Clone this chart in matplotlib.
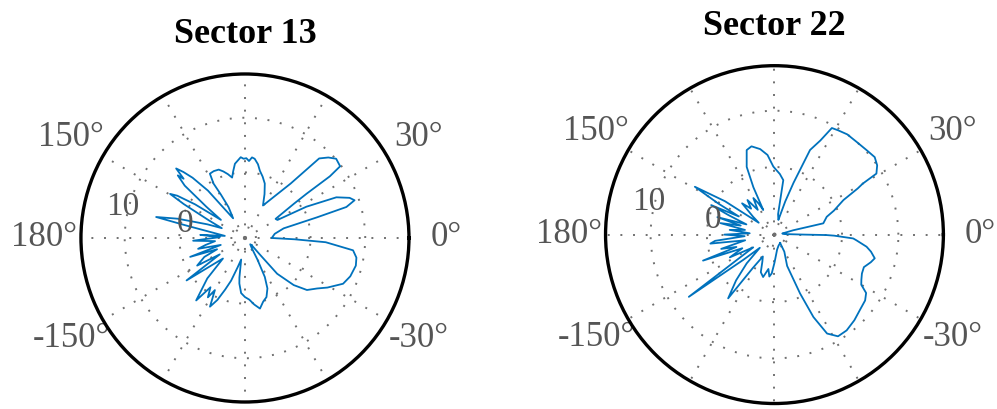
import matplotlib
matplotlib.use('Agg')
import matplotlib.pyplot as plt
import numpy as np

plt.rcParams['font.family'] = ['Liberation Serif', 'DejaVu Serif']

# Sector 13 pattern: angle (deg), gain (dB)
theta13 = [-47, -48, -48, -44, -40, -35, -31, -25, -20, -14, -10, -6.5, -3, -1.5, 0,
           8, 14, 16, 17, 19, 21, 24, 27, 29, 32, 35, 35.7, 36, 37, 41, 44, 47, 50,
           57, 61, 66, 70, 74, 77.5, 80, 83, 85, 87, 89, 91, 93, 95, 97.7, 100, 102,
           105, 108, 111, 115, 118.6, 120, 119, 118, 121, 125, 128, 131, 133, 134.7,
           136, 137, 139, 141, 143, 146, 148, 149.5, 151, 154, 157, 160, 164, 166.7,
           168, 171, 174, 176, 178, -177, -174, -170, -167, -164, -161, -158, -155,
           -150, -147, -144, -140, -137, -133, -128, -125, -122, -120, -117, -114,
           -111, -108, -104, -100, -98, -97, -94, -90, -86, -82, -78, -74, -70, -66,
           -63, -60, -56, -50, -47]
gain13 = [-10.2, -8.0, -3.2, 0.4, 2.8, 4.1, 5.6, 7.8, 8.5, 8.9, 8.7, 7.9, 2.8, -2.9, -7.1,
          -6.5, -4.7, 1.7, 7.4, 9.2, 8.5, 6.3, 0.6, -5.2, -5.4, -1.0, 1.9, 7.2, 9.8, 10.1,
          9.2, 7.9, 1.0, -3.8, -5.2, -3.2, -1.4, -0.3, 0.6, 1.7, 2.6, 2.8, 2.1, 2.6, 2.5,
          2.8, 2.3, 1.7, 0.4, -0.7, 0.1, 0.8, 1.4, 1.5, 1.4, -0.5, -2.9, -5.6, -7.8, -5.6,
          -1.0, 2.6, 4.5, 5.9, 3.6, 4.8, 2.6, -2.9, -6.5, -1.0, 2.6, 3.9, 0.8, -4.7, -7.4,
          -4.7, 0.8, 4.7, -1.0, -6.5, -8.3, -3.8, -7.4, -2.5, -6.5, -4.7, -3.2, -7.4, -1.4,
          -6.5, -3.8, -1.9, -6.5, 1.2, -4.7, -6.5, -1.9, 2.5, -1.0, 0.8, -1.0, 2.1, 0.4,
          -1.9, -3.8, -6.5, -8.0, -4.7, -3.6, -1.9, -1.2, -0.7, 0.3, 1.2, 0.1, -0.5, -1.9,
          -4.0, -7.4, -9.8, -10.5, -10.2]

# Sector 22 pattern
theta22 = [-56, -60, -68, -66.5, -64.7, -62, -58, -53, -47, -41, -36, -32.5, -30, -27.5,
           -24, -20, -16, -13.3, -10, -7.5, -4, -2.8, -1, -0.5, 0, 3, 8, 13, 13, 18.8, 22,
           26.6, 29, 30, 30.9, 34, 37.7, 42.5, 48.5, 54, 58.6, 61.7, 64, 67.2, 69.8, 72,
           75, 78, 80, 80.8, 83, 84.9, 88, 91, 95, 99.5, 104.6, 108.2, 112.3, 114, 114.5,
           117, 120, 124, 128, 132, 136, 140, 143, 146, 149, 151, 153, 155, 157, 160, 163,
           165, 168, 171, 174, 177, 180, -177, -174, -172, -169, -165, -162, -160, -157,
           -153, -149, -144, -141, -138, -134, -130, -126, -123, -118, -114, -110, -105,
           -100, -97, -94, -90, -85, -80, -70, -56]
gain22 = [-10.2, -8.5, -6.0, -0.6, 4.2, 7.9, 9.3, 9.3, 8.8, 8.2, 7.9, 7.3, 5.8, 5.4, 5.0,
          4.9, 5.8, 6.3, 5.4, 4.5, 2.6, 2.0, -1.4, -2.8, -6.7, -10.2, -10.6, -8.6, -3.1,
          -2.2, -0.6, 1.7, 4.9, 6.1, 9.1, 10.0, 10.5, 10.2, 10.0, 10.0, 9.7, 9.5, 6.6, 4.3,
          -2.2, -5.8, -9.3, -8.8, -8.3, -2.2, -1.7, -1.2, -0.6, 0.1, 2.2, 3.4, 4.2, 3.8,
          1.0, -2.8, -7.2, -5.8, -4.5, -6.7, -4.2, -5.8, -4.0, -7.0, -8.5, -1.4, 4.5, -0.5,
          -4.9, 0.4, -3.1, -6.7, -1.4, -5.8, -2.2, -6.7, -4.0, -7.6, -3.1, -6.7, -1.4, -0.5,
          -6.7, -2.2, -4.9, 1.5, -5.8, -3.1, -7.6, 6.8, -4.9, -8.5, -4.9, -1.4, 2.0, -4.9,
          -7.6, -6.7, -4.9, -4.2, -5.8, -4.5, -5.1, -7.0, -8.5, -9.3, -9.9, -10.2]

titles = ['Sector 13', 'Sector 22']
theta_ticks = [0, 30, 60, 90, 120, 150, 180, 210, 240, 270, 300, 330]
theta_labels = ['0°', '30°', '', '', '', '150°', '180°', '-150°', '', '', '', '-30°']
r_ticks = [-10, 0, 10]
r_labels = ['0', '10']
r_label_pos = [(166.5, -0.7), (165.5, 11.0)]

fig = plt.figure(figsize=(9.97, 4.09), dpi=100)
boxes = [[0.0812, 0.0171, 0.329, 0.802], [0.6073, 0.0134, 0.339, 0.826]]
series = [(theta13, gain13), (theta22, gain22)]
title_y = [1.095, 1.09]

for box, (th, g), name, ty in zip(boxes, series, titles, title_y):
    ax = fig.add_axes(box, projection='polar')
    t = np.unwrap(np.deg2rad(th))
    ax.plot(t, g, color='#0072BD', lw=1.3)
    ax.set_theta_zero_location('E')
    ax.set_ylim(-12, 18)
    ax.set_thetagrids(theta_ticks, theta_labels)
    ax.set_rgrids(r_ticks, ['', '', ''])
    ax.grid(True, color='#707070', linestyle=(0, (1, 5.5)), linewidth=1.4)
    ax.tick_params(axis='x', labelsize=25, labelcolor='#555555', pad=16)
    for lab, (a, r) in zip(r_labels, r_label_pos):
        ax.text(np.deg2rad(a), r, lab, fontsize=24, color='#555555',
                ha='center', va='center')
    ax.spines['polar'].set_linewidth(2.4)
    ax.spines['polar'].set_color('black')
    ax.set_title(name, fontsize=26, fontweight='bold', y=ty, va='center')

fig.savefig('out.png', dpi=100)
